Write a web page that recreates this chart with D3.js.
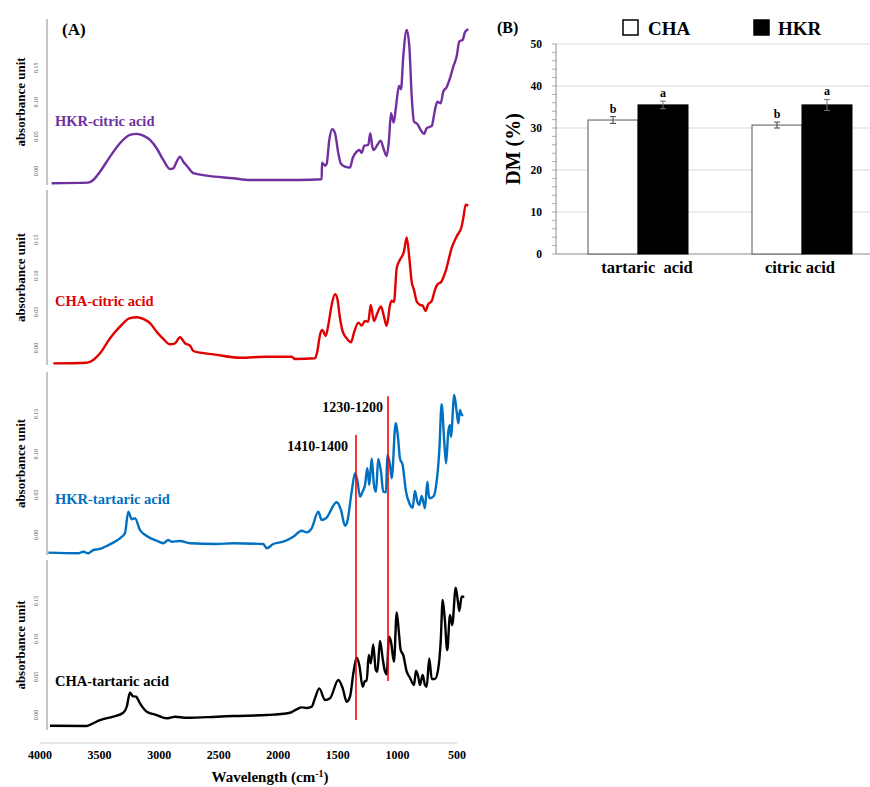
<!DOCTYPE html>
<html>
<head>
<meta charset="utf-8">
<script src="https://cdn.jsdelivr.net/npm/d3@7"></script>
<style>
  body { margin: 0; background: #fff; }
  svg text { font-family: "Liberation Serif", "Times New Roman", serif; font-weight: bold; }
</style>
</head>
<body>
<svg id="chart" width="870" height="787"></svg>
<script>
// ---- panel A: FTIR spectra, [wavenumber, absorbance]
var hkrCitric = [[3902,-0.0179],[3595,-0.0170],[3553,-0.0131],[3496,-0.0010],[3412,0.0208],[3329,0.0403],[3245,0.0524],[3188,0.0539],[3133,0.0514],[3077,0.0451],[3021,0.0330],[2965,0.0160],[2909,0.0029],[2881,0.0039],[2853,0.0135],[2825,0.0208],[2797,0.0135],[2769,0.0077],[2735,0.0004],[2713,-0.0033],[2601,-0.0068],[2378,-0.0106],[2237,-0.0131],[1818,-0.0131],[1636,-0.0121],[1633,0.0121],[1608,0.0077],[1594,0.0102],[1572,0.0451],[1547,0.0607],[1524,0.0549],[1496,0.0258],[1476,0.0112],[1440,0.0063],[1398,0.0048],[1376,0.0185],[1342,0.0281],[1320,0.0306],[1300,0.0266],[1278,0.0368],[1245,0.0378],[1228,0.0549],[1211,0.0354],[1197,0.0306],[1169,0.0378],[1141,0.0441],[1113,0.0306],[1090,0.0218],[1071,0.0451],[1054,0.0840],[1031,0.0703],[1012,0.0936],[987,0.1237],[970,0.1189],[951,0.1664],[922,0.2052],[900,0.1809],[880,0.1082],[861,0.0718],[833,0.0684],[805,0.0597],[777,0.0539],[754,0.0622],[712,0.0655],[685,0.0888],[665,0.1009],[637,0.0985],[615,0.1154],[587,0.1218],[559,0.1349],[531,0.1518],[503,0.1664],[481,0.1882],[452,0.1907],[433,0.2019],[405,0.2063]];

var chaCitric = [[3888,-0.0213],[3608,-0.0204],[3553,-0.0167],[3496,-0.0074],[3412,0.0135],[3329,0.0296],[3245,0.0413],[3188,0.0426],[3133,0.0403],[3077,0.0343],[3021,0.0226],[2965,0.0125],[2909,0.0051],[2867,0.0065],[2825,0.0149],[2783,0.0065],[2741,0.0032],[2713,-0.0042],[2657,-0.0065],[2545,-0.0088],[2321,-0.0135],[2097,-0.0121],[1887,-0.0121],[1860,-0.0153],[1692,-0.0143],[1673,-0.0051],[1650,0.0181],[1631,0.0250],[1602,0.0167],[1580,0.0319],[1552,0.0597],[1524,0.0746],[1505,0.0690],[1482,0.0413],[1459,0.0226],[1426,0.0135],[1390,0.0079],[1362,0.0226],[1328,0.0351],[1300,0.0310],[1272,0.0375],[1245,0.0365],[1224,0.0597],[1197,0.0375],[1169,0.0482],[1138,0.0574],[1113,0.0435],[1090,0.0306],[1062,0.0597],[1048,0.0657],[1029,0.0635],[1006,0.1107],[979,0.1222],[945,0.1338],[922,0.1532],[900,0.1246],[880,0.0913],[861,0.0806],[838,0.0643],[811,0.0597],[788,0.0588],[766,0.0514],[741,0.0607],[712,0.0653],[685,0.0806],[662,0.0885],[634,0.0913],[592,0.1083],[545,0.1385],[503,0.1546],[461,0.1685],[447,0.1801],[427,0.1986],[405,0.1972]];

var hkrTartaric = [[3930,-0.0219],[3679,-0.0227],[3637,-0.0207],[3595,-0.0227],[3553,-0.0186],[3496,-0.0173],[3440,-0.0136],[3385,-0.0095],[3329,-0.0041],[3287,0.0021],[3259,0.0289],[3230,0.0195],[3203,0.0207],[3161,0.0062],[3104,-0.0012],[3021,-0.0071],[2965,-0.0103],[2923,-0.0062],[2895,-0.0083],[2825,-0.0074],[2741,-0.0103],[2517,-0.0112],[2378,-0.0103],[2126,-0.0112],[2097,-0.0165],[2042,-0.0112],[1958,-0.0083],[1874,-0.0021],[1804,0.0053],[1762,0.0033],[1720,0.0083],[1664,0.0289],[1636,0.0186],[1600,0.0207],[1510,0.0405],[1474,0.0310],[1440,0.0115],[1421,0.0165],[1384,0.0537],[1356,0.0765],[1337,0.0682],[1314,0.0475],[1292,0.0537],[1272,0.0620],[1253,0.0827],[1236,0.0620],[1216,0.0950],[1197,0.0620],[1180,0.0537],[1161,0.0942],[1138,0.0785],[1119,0.0537],[1096,0.0529],[1085,0.0991],[1062,0.0867],[1048,0.0703],[1015,0.1384],[993,0.1177],[979,0.0950],[956,0.0867],[928,0.0537],[900,0.0393],[872,0.0338],[853,0.0545],[833,0.0413],[817,0.0372],[796,0.0483],[769,0.0331],[749,0.0660],[733,0.0455],[699,0.0475],[671,0.0660],[649,0.1032],[629,0.1620],[607,0.1156],[592,0.0888],[573,0.1280],[559,0.1363],[551,0.1218],[523,0.1735],[503,0.1528],[489,0.1384],[475,0.1549],[461,0.1487],[447,0.1487]];

var chaTartaric = [[3916,-0.0141],[3608,-0.0145],[3566,-0.0118],[3496,-0.0066],[3385,-0.0022],[3301,0.0030],[3272,0.0109],[3245,0.0293],[3222,0.0250],[3194,0.0241],[3161,0.0154],[3104,0.0043],[3021,0.0000],[2937,-0.0043],[2895,-0.0030],[2867,-0.0022],[2769,-0.0036],[2517,-0.0022],[2378,-0.0013],[2097,0.0000],[1902,0.0030],[1846,0.0075],[1804,0.0101],[1762,0.0092],[1720,0.0109],[1692,0.0220],[1656,0.0351],[1608,0.0197],[1566,0.0220],[1496,0.0461],[1459,0.0351],[1426,0.0175],[1398,0.0241],[1370,0.0549],[1342,0.0754],[1320,0.0658],[1292,0.0372],[1272,0.0447],[1258,0.0447],[1241,0.0789],[1224,0.0680],[1203,0.0930],[1182,0.0592],[1169,0.0570],[1146,0.0974],[1124,0.0746],[1104,0.0570],[1090,0.0536],[1071,0.1030],[1054,0.0964],[1029,0.0701],[1006,0.1351],[987,0.1075],[973,0.0855],[951,0.0789],[922,0.0570],[895,0.0491],[861,0.0395],[844,0.0583],[825,0.0504],[811,0.0395],[788,0.0526],[769,0.0395],[754,0.0372],[733,0.0746],[712,0.0474],[685,0.0474],[657,0.0614],[637,0.0964],[620,0.1513],[603,0.1272],[582,0.0855],[559,0.1316],[540,0.1184],[511,0.1675],[494,0.1513],[481,0.1368],[461,0.1557],[439,0.1557]];

var wnTicks = [4000, 3500, 3000, 2500, 2000, 1500, 1000, 500];
var absTicks = [0, 0.05, 0.10, 0.15];
// marker lines: wavenumber, label
var markerWn = [1348, 1079];
var markerLabels = ["1410-1400", "1230-1200"];

// ---- panel B: DM (%)
var acids = ["tartaric  acid", "citric acid"];
var groups = ["CHA", "HKR"];
var dmCHA = [31.9, 30.7];
var dmCHAerr = [0.8, 0.7];
var dmHKR = [35.5, 35.5];
var dmHKRerr = [0.9, 1.3];
var lettersCHA = ["b", "b"];
var lettersHKR = ["a", "a"];
var dmTicks = [0, 10, 20, 30, 40, 50];

var svg = d3.select("#chart");

// ================= Panel A =================
var x = d3.scaleLinear().domain([4000, 500]).range([40, 457]);

var panels = [
  { data: hkrCitric, color: "#7030a0", label: "HKR-citric acid", dom: [-0.0204, 0.221], rng: [185, 19], ly: 126 },
  { data: chaCitric, color: "#e00000", label: "CHA-citric acid", dom: [-0.0236, 0.219], rng: [365, 190], ly: 306 },
  { data: hkrTartaric, color: "#0070c0", label: "HKR-tartaric acid", dom: [-0.0248, 0.202], rng: [555, 372], ly: 504 },
  { data: chaTartaric, color: "#000000", label: "CHA-tartaric acid", dom: [-0.0197, 0.204], rng: [730, 560], ly: 686 }
];

var gA = svg.append("g");

panels.forEach(function (p) {
  p.y = d3.scaleLinear().domain(p.dom).range(p.rng);
  var g = gA.append("g");

  // left axis line
  g.append("line")
    .attr("x1", 47).attr("x2", 47)
    .attr("y1", p.rng[1]).attr("y2", p.rng[0])
    .attr("stroke", "#8c8c8c").attr("stroke-width", 1);

  // tiny rotated tick labels
  g.selectAll("text.tick")
    .data(absTicks)
    .enter()
    .append("text")
    .attr("class", "tick")
    .attr("transform", function (d) {
      return "translate(38," + p.y(d) + ") rotate(-90)";
    })
    .attr("text-anchor", "middle")
    .style("font-size", "6px")
    .style("font-weight", "normal")
    .attr("fill", "#555")
    .text(function (d) { return d3.format(".2f")(d); });

  // axis title
  g.append("text")
    .attr("transform", "translate(25," + (p.rng[0] + p.rng[1]) / 2 + ") rotate(-90)")
    .attr("text-anchor", "middle")
    .style("font-size", "13px")
    .attr("fill", "#000")
    .text("absorbance unit");

  var line = d3.line()
    .x(function (d) { return x(d[0]); })
    .y(function (d) { return p.y(d[1]); })
    .curve(d3.curveMonotoneX);

  g.append("path")
    .datum(p.data)
    .attr("d", line)
    .attr("fill", "none")
    .attr("stroke", p.color)
    .attr("stroke-width", 2.4)
    .attr("stroke-linejoin", "round");

  g.append("text")
    .attr("x", 55).attr("y", p.ly)
    .style("font-size", "14.5px")
    .attr("fill", p.color)
    .text(p.label);
});

// red marker lines spanning the two tartaric panels
var pBlue = panels[2], pBlack = panels[3];
var markerTop = [pBlue.y(0.124), pBlue.y(0.172)];
var markerBot = [pBlack.y(-0.0066), pBlack.y(0.0447)];
markerWn.forEach(function (w, i) {
  gA.append("line")
    .attr("x1", x(w)).attr("x2", x(w))
    .attr("y1", markerTop[i]).attr("y2", markerBot[i])
    .attr("stroke", "#ff0000").attr("stroke-width", 1.6);
  gA.append("text")
    .attr("x", x(w) - (i === 0 ? 8 : 5))
    .attr("y", markerTop[i] + 16)
    .attr("text-anchor", "end")
    .style("font-size", "14px")
    .attr("fill", "#000")
    .text(markerLabels[i]);
});

// bottom x axis
gA.append("line")
  .attr("x1", 40).attr("x2", 457)
  .attr("y1", 743).attr("y2", 743)
  .attr("stroke", "#c8c8c8").attr("stroke-width", 1);

gA.selectAll("text.xt")
  .data(wnTicks)
  .enter()
  .append("text")
  .attr("class", "xt")
  .attr("x", function (d) { return x(d); })
  .attr("y", 759)
  .attr("text-anchor", "middle")
  .style("font-size", "12px")
  .text(function (d) { return d; });

var xt = gA.append("text")
  .attr("x", 270).attr("y", 782)
  .attr("text-anchor", "middle")
  .style("font-size", "15px");
xt.append("tspan").text("Wavelength (cm");
xt.append("tspan").attr("dy", -5).style("font-size", "10px").text("-1");
xt.append("tspan").attr("dy", 5).text(")");

gA.append("text")
  .attr("x", 62).attr("y", 35)
  .style("font-size", "17px")
  .text("(A)");

// ================= Panel B =================
var gB = svg.append("g");
var yB = d3.scaleLinear().domain([0, 50]).range([254, 44]);
var x0 = d3.scaleBand().domain(acids).range([556, 884]);
var groupW = 100;
var x1 = d3.scaleBand().domain(groups).range([0, groupW]);

// gridlines
gB.selectAll("line.grid")
  .data(dmTicks.slice(1))
  .enter()
  .append("line")
  .attr("x1", 556).attr("x2", 884)
  .attr("y1", function (d) { return yB(d); })
  .attr("y2", function (d) { return yB(d); })
  .attr("stroke", "#d9d9d9").attr("stroke-width", 1);

// minor ticks
gB.selectAll("line.minor")
  .data(d3.range(0, 51, 2))
  .enter()
  .append("line")
  .attr("x1", 552).attr("x2", 556)
  .attr("y1", function (d) { return yB(d); })
  .attr("y2", function (d) { return yB(d); })
  .attr("stroke", "#999").attr("stroke-width", 0.8);

// axis lines
gB.append("line")
  .attr("x1", 556).attr("x2", 556)
  .attr("y1", yB(50)).attr("y2", yB(0))
  .attr("stroke", "#8c8c8c");
gB.append("line")
  .attr("x1", 556).attr("x2", 884)
  .attr("y1", yB(0)).attr("y2", yB(0))
  .attr("stroke", "#8c8c8c");

gB.selectAll("text.yt")
  .data(dmTicks)
  .enter()
  .append("text")
  .attr("class", "yt")
  .attr("x", 542)
  .attr("y", function (d) { return yB(d) + 4; })
  .attr("text-anchor", "end")
  .style("font-size", "11.5px")
  .text(function (d) { return d; });

gB.append("text")
  .attr("transform", "translate(520," + yB(25) + ") rotate(-90)")
  .attr("text-anchor", "middle")
  .style("font-size", "20px")
  .text("DM (%)");

var barData = [];
acids.forEach(function (a, i) {
  barData.push({ acid: a, grp: "CHA", v: dmCHA[i], e: dmCHAerr[i], l: lettersCHA[i] });
  barData.push({ acid: a, grp: "HKR", v: dmHKR[i], e: dmHKRerr[i], l: lettersHKR[i] });
});

function bx(d) {
  return x0(d.acid) + (x0.bandwidth() - groupW) / 2 + x1(d.grp);
}

gB.selectAll("rect.bar")
  .data(barData)
  .enter()
  .append("rect")
  .attr("class", "bar")
  .attr("x", bx)
  .attr("y", function (d) { return yB(d.v); })
  .attr("width", x1.bandwidth())
  .attr("height", function (d) { return yB(0) - yB(d.v); })
  .attr("fill", function (d) { return d.grp === "CHA" ? "#fff" : "#000"; })
  .attr("stroke", function (d) { return d.grp === "CHA" ? "#555" : "#000"; })
  .attr("stroke-width", 1);

// error bars
var eb = gB.selectAll("g.err")
  .data(barData)
  .enter()
  .append("g")
  .attr("class", "err");
eb.append("line")
  .attr("x1", function (d) { return bx(d) + x1.bandwidth() / 2; })
  .attr("x2", function (d) { return bx(d) + x1.bandwidth() / 2; })
  .attr("y1", function (d) { return yB(d.v + d.e); })
  .attr("y2", function (d) { return yB(d.v - d.e); })
  .attr("stroke", function (d) { return d.grp === "CHA" ? "#444" : "#777"; });
[1, -1].forEach(function (s) {
  eb.append("line")
    .attr("x1", function (d) { return bx(d) + x1.bandwidth() / 2 - 3; })
    .attr("x2", function (d) { return bx(d) + x1.bandwidth() / 2 + 3; })
    .attr("y1", function (d) { return yB(d.v + s * d.e); })
    .attr("y2", function (d) { return yB(d.v + s * d.e); })
    .attr("stroke", function (d) { return d.grp === "CHA" ? "#444" : "#777"; });
});
eb.append("text")
  .attr("x", function (d) { return bx(d) + x1.bandwidth() / 2; })
  .attr("y", function (d) { return yB(d.v + d.e) - 4; })
  .attr("text-anchor", "middle")
  .style("font-size", "12px")
  .text(function (d) { return d.l; });

var catShift = [9, -2];
gB.selectAll("text.cat")
  .data(acids)
  .enter()
  .append("text")
  .attr("class", "cat")
  .attr("x", function (d, i) { return x0(d) + x0.bandwidth() / 2 + catShift[i]; })
  .attr("y", 273)
  .attr("text-anchor", "middle")
  .style("font-size", "16.5px")
  .style("white-space", "pre")
  .text(function (d) { return d; });

// legend
var legX = [623, 754];
groups.forEach(function (g, i) {
  gB.append("rect")
    .attr("x", legX[i]).attr("y", 20)
    .attr("width", 15).attr("height", 15)
    .attr("fill", i === 0 ? "#fff" : "#000")
    .attr("stroke", "#000").attr("stroke-width", 1.5);
  gB.append("text")
    .attr("x", legX[i] + (i === 0 ? 25 : 24)).attr("y", 35)
    .style("font-size", "19px")
    .text(g);
});

gB.append("text")
  .attr("x", 497).attr("y", 33)
  .style("font-size", "16px")
  .text("(B)");
</script>
</body>
</html>
